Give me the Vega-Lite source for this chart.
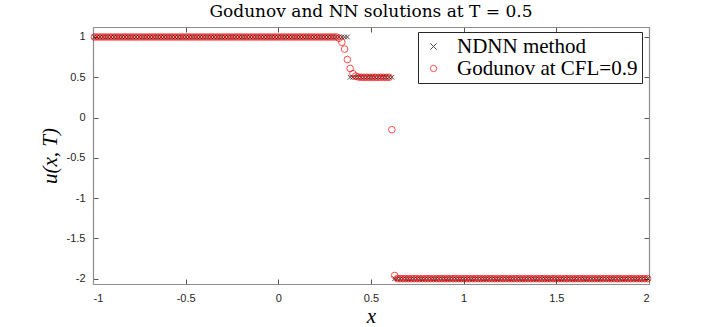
{
  "$schema": "https://vega.github.io/schema/vega-lite/v6.json",
  "width": 556,
  "height": 257,
  "autosize": "none",
  "padding": {"left": 93, "top": 27, "right": 68, "bottom": 43},
  "background": "white",
  "title": {"text": "Godunov and NN solutions at T = 0.5", "font": "DejaVu Serif", "fontSize": 17, "fontWeight": "normal", "color": "#000000", "anchor": "middle", "offset": 6},
  "config": {
    "view": {"stroke": null},
    "axis": {"labelFont": "Liberation Sans", "labelFontSize": 11, "labelColor": "#262626", "domainColor": "#8c8c8c", "domainWidth": 1.2, "tickColor": "#555555", "tickSize": -5, "grid": false, "titleFont": "Liberation Serif", "titleFontStyle": "italic", "titleFontWeight": "normal", "titleFontSize": 21, "titleColor": "#000000", "labelExpr": "'' + datum.value"},
    "legend": {"orient": "none", "legendX": 325, "legendY": 5, "strokeColor": "#262626", "fillColor": "#ffffff", "padding": 4, "labelFont": "Liberation Serif", "labelFontSize": 21, "labelColor": "#000000", "labelOffset": 13, "symbolOffset": 1, "rowPadding": 0, "symbolSize": 40, "symbolStrokeWidth": 1, "labelLimit": 300}
  },
  "data": {"values": [
    {"x":-0.9925,"g":1,"n":1},{"x":-0.9775,"g":1,"n":1},{"x":-0.9625,"g":1,"n":1},{"x":-0.9475,"g":1,"n":1},{"x":-0.9325,"g":1,"n":1},{"x":-0.9175,"g":1,"n":1},{"x":-0.9025,"g":1,"n":1},{"x":-0.8875,"g":1,"n":1},{"x":-0.8725,"g":1,"n":1},{"x":-0.8575,"g":1,"n":1},
    {"x":-0.8425,"g":1,"n":1},{"x":-0.8275,"g":1,"n":1},{"x":-0.8125,"g":1,"n":1},{"x":-0.7975,"g":1,"n":1},{"x":-0.7825,"g":1,"n":1},{"x":-0.7675,"g":1,"n":1},{"x":-0.7525,"g":1,"n":1},{"x":-0.7375,"g":1,"n":1},{"x":-0.7225,"g":1,"n":1},{"x":-0.7075,"g":1,"n":1},
    {"x":-0.6925,"g":1,"n":1},{"x":-0.6775,"g":1,"n":1},{"x":-0.6625,"g":1,"n":1},{"x":-0.6475,"g":1,"n":1},{"x":-0.6325,"g":1,"n":1},{"x":-0.6175,"g":1,"n":1},{"x":-0.6025,"g":1,"n":1},{"x":-0.5875,"g":1,"n":1},{"x":-0.5725,"g":1,"n":1},{"x":-0.5575,"g":1,"n":1},
    {"x":-0.5425,"g":1,"n":1},{"x":-0.5275,"g":1,"n":1},{"x":-0.5125,"g":1,"n":1},{"x":-0.4975,"g":1,"n":1},{"x":-0.4825,"g":1,"n":1},{"x":-0.4675,"g":1,"n":1},{"x":-0.4525,"g":1,"n":1},{"x":-0.4375,"g":1,"n":1},{"x":-0.4225,"g":1,"n":1},{"x":-0.4075,"g":1,"n":1},
    {"x":-0.3925,"g":1,"n":1},{"x":-0.3775,"g":1,"n":1},{"x":-0.3625,"g":1,"n":1},{"x":-0.3475,"g":1,"n":1},{"x":-0.3325,"g":1,"n":1},{"x":-0.3175,"g":1,"n":1},{"x":-0.3025,"g":1,"n":1},{"x":-0.2875,"g":1,"n":1},{"x":-0.2725,"g":1,"n":1},{"x":-0.2575,"g":1,"n":1},
    {"x":-0.2425,"g":1,"n":1},{"x":-0.2275,"g":1,"n":1},{"x":-0.2125,"g":1,"n":1},{"x":-0.1975,"g":1,"n":1},{"x":-0.1825,"g":1,"n":1},{"x":-0.1675,"g":1,"n":1},{"x":-0.1525,"g":1,"n":1},{"x":-0.1375,"g":1,"n":1},{"x":-0.1225,"g":1,"n":1},{"x":-0.1075,"g":1,"n":1},
    {"x":-0.0925,"g":1,"n":1},{"x":-0.0775,"g":1,"n":1},{"x":-0.0625,"g":1,"n":1},{"x":-0.0475,"g":1,"n":1},{"x":-0.0325,"g":1,"n":1},{"x":-0.0175,"g":1,"n":1},{"x":-0.0025,"g":1,"n":1},{"x":0.0125,"g":1,"n":1},{"x":0.0275,"g":1,"n":1},{"x":0.0425,"g":1,"n":1},
    {"x":0.0575,"g":1,"n":1},{"x":0.0725,"g":1,"n":1},{"x":0.0875,"g":1,"n":1},{"x":0.1025,"g":1,"n":1},{"x":0.1175,"g":1,"n":1},{"x":0.1325,"g":1,"n":1},{"x":0.1475,"g":1,"n":1},{"x":0.1625,"g":1,"n":1},{"x":0.1775,"g":1,"n":1},{"x":0.1925,"g":1,"n":1},
    {"x":0.2075,"g":1,"n":1},{"x":0.2225,"g":1,"n":1},{"x":0.2375,"g":1,"n":1},{"x":0.2525,"g":1,"n":1},{"x":0.2675,"g":1,"n":1},{"x":0.2825,"g":1,"n":1},{"x":0.2975,"g":1,"n":1},{"x":0.3125,"g":1,"n":1},{"x":0.3275,"g":0.985,"n":1},{"x":0.3425,"g":0.935,"n":1},
    {"x":0.3575,"g":0.85,"n":1},{"x":0.3725,"g":0.72,"n":1},{"x":0.3875,"g":0.61,"n":0.5},{"x":0.4025,"g":0.545,"n":0.5},{"x":0.4175,"g":0.515,"n":0.5},{"x":0.4325,"g":0.503,"n":0.5},{"x":0.4475,"g":0.5,"n":0.5},{"x":0.4625,"g":0.5,"n":0.5},{"x":0.4775,"g":0.5,"n":0.5},{"x":0.4925,"g":0.5,"n":0.5},
    {"x":0.5075,"g":0.5,"n":0.5},{"x":0.5225,"g":0.5,"n":0.5},{"x":0.5375,"g":0.5,"n":0.5},{"x":0.5525,"g":0.5,"n":0.5},{"x":0.5675,"g":0.5,"n":0.5},{"x":0.5825,"g":0.5,"n":0.5},{"x":0.5975,"g":0.5,"n":0.5},{"x":0.6125,"g":-0.15,"n":0.5},{"x":0.6275,"g":-1.96,"n":-2},{"x":0.6425,"g":-2,"n":-2},
    {"x":0.6575,"g":-2,"n":-2},{"x":0.6725,"g":-2,"n":-2},{"x":0.6875,"g":-2,"n":-2},{"x":0.7025,"g":-2,"n":-2},{"x":0.7175,"g":-2,"n":-2},{"x":0.7325,"g":-2,"n":-2},{"x":0.7475,"g":-2,"n":-2},{"x":0.7625,"g":-2,"n":-2},{"x":0.7775,"g":-2,"n":-2},{"x":0.7925,"g":-2,"n":-2},
    {"x":0.8075,"g":-2,"n":-2},{"x":0.8225,"g":-2,"n":-2},{"x":0.8375,"g":-2,"n":-2},{"x":0.8525,"g":-2,"n":-2},{"x":0.8675,"g":-2,"n":-2},{"x":0.8825,"g":-2,"n":-2},{"x":0.8975,"g":-2,"n":-2},{"x":0.9125,"g":-2,"n":-2},{"x":0.9275,"g":-2,"n":-2},{"x":0.9425,"g":-2,"n":-2},
    {"x":0.9575,"g":-2,"n":-2},{"x":0.9725,"g":-2,"n":-2},{"x":0.9875,"g":-2,"n":-2},{"x":1.0025,"g":-2,"n":-2},{"x":1.0175,"g":-2,"n":-2},{"x":1.0325,"g":-2,"n":-2},{"x":1.0475,"g":-2,"n":-2},{"x":1.0625,"g":-2,"n":-2},{"x":1.0775,"g":-2,"n":-2},{"x":1.0925,"g":-2,"n":-2},
    {"x":1.1075,"g":-2,"n":-2},{"x":1.1225,"g":-2,"n":-2},{"x":1.1375,"g":-2,"n":-2},{"x":1.1525,"g":-2,"n":-2},{"x":1.1675,"g":-2,"n":-2},{"x":1.1825,"g":-2,"n":-2},{"x":1.1975,"g":-2,"n":-2},{"x":1.2125,"g":-2,"n":-2},{"x":1.2275,"g":-2,"n":-2},{"x":1.2425,"g":-2,"n":-2},
    {"x":1.2575,"g":-2,"n":-2},{"x":1.2725,"g":-2,"n":-2},{"x":1.2875,"g":-2,"n":-2},{"x":1.3025,"g":-2,"n":-2},{"x":1.3175,"g":-2,"n":-2},{"x":1.3325,"g":-2,"n":-2},{"x":1.3475,"g":-2,"n":-2},{"x":1.3625,"g":-2,"n":-2},{"x":1.3775,"g":-2,"n":-2},{"x":1.3925,"g":-2,"n":-2},
    {"x":1.4075,"g":-2,"n":-2},{"x":1.4225,"g":-2,"n":-2},{"x":1.4375,"g":-2,"n":-2},{"x":1.4525,"g":-2,"n":-2},{"x":1.4675,"g":-2,"n":-2},{"x":1.4825,"g":-2,"n":-2},{"x":1.4975,"g":-2,"n":-2},{"x":1.5125,"g":-2,"n":-2},{"x":1.5275,"g":-2,"n":-2},{"x":1.5425,"g":-2,"n":-2},
    {"x":1.5575,"g":-2,"n":-2},{"x":1.5725,"g":-2,"n":-2},{"x":1.5875,"g":-2,"n":-2},{"x":1.6025,"g":-2,"n":-2},{"x":1.6175,"g":-2,"n":-2},{"x":1.6325,"g":-2,"n":-2},{"x":1.6475,"g":-2,"n":-2},{"x":1.6625,"g":-2,"n":-2},{"x":1.6775,"g":-2,"n":-2},{"x":1.6925,"g":-2,"n":-2},
    {"x":1.7075,"g":-2,"n":-2},{"x":1.7225,"g":-2,"n":-2},{"x":1.7375,"g":-2,"n":-2},{"x":1.7525,"g":-2,"n":-2},{"x":1.7675,"g":-2,"n":-2},{"x":1.7825,"g":-2,"n":-2},{"x":1.7975,"g":-2,"n":-2},{"x":1.8125,"g":-2,"n":-2},{"x":1.8275,"g":-2,"n":-2},{"x":1.8425,"g":-2,"n":-2},
    {"x":1.8575,"g":-2,"n":-2},{"x":1.8725,"g":-2,"n":-2},{"x":1.8875,"g":-2,"n":-2},{"x":1.9025,"g":-2,"n":-2},{"x":1.9175,"g":-2,"n":-2},{"x":1.9325,"g":-2,"n":-2},{"x":1.9475,"g":-2,"n":-2},{"x":1.9625,"g":-2,"n":-2},{"x":1.9775,"g":-2,"n":-2},{"x":1.9925,"g":-2,"n":-2}
  ]},
  "layer": [
    {
      "mark": {"type": "point", "filled": false, "strokeWidth": 1, "size": 22, "clip": false},
      "encoding": {
        "x": {"field": "x", "type": "quantitative", "scale": {"domain": [-1, 2], "nice": false, "zero": false},
              "axis": {"orient": "bottom", "values": [-1, -0.5, 0, 0.5, 1, 1.5, 2], "title": "x", "labelPadding": 13, "titlePadding": 2}},
        "y": {"field": "n", "type": "quantitative", "scale": {"domain": [-2.066, 1.124], "nice": false, "zero": false},
              "axis": {"orient": "left", "values": [-2, -1.5, -1, -0.5, 0, 0.5, 1], "title": "u(x, T)", "labelPadding": 13, "titlePadding": 6}},
        "color": {"datum": "NDNN method", "type": "nominal",
                  "scale": {"domain": ["NDNN method", "Godunov at CFL=0.9"], "range": ["#000000", "#ff0000"]},
                  "legend": {"title": null}},
        "shape": {"datum": "NDNN method", "type": "nominal",
                  "scale": {"domain": ["NDNN method", "Godunov at CFL=0.9"], "range": ["M-1,-1L1,1M-1,1L1,-1", "circle"]},
                  "legend": {"title": null}}
      }
    },
    {
      "mark": {"type": "point", "filled": false, "strokeWidth": 1, "size": 44, "clip": false},
      "encoding": {
        "x": {"field": "x", "type": "quantitative", "axis": {"orient": "top", "values": [-1, -0.5, 0, 0.5, 1, 1.5, 2], "labels": false, "title": null}},
        "y": {"field": "g", "type": "quantitative", "axis": {"orient": "right", "values": [-2, -1.5, -1, -0.5, 0, 0.5, 1], "labels": false, "title": null}},
        "color": {"datum": "Godunov at CFL=0.9", "type": "nominal"},
        "shape": {"datum": "Godunov at CFL=0.9", "type": "nominal"}
      }
    }
  ],
  "resolve": {"axis": {"x": "independent", "y": "independent"}}
}
